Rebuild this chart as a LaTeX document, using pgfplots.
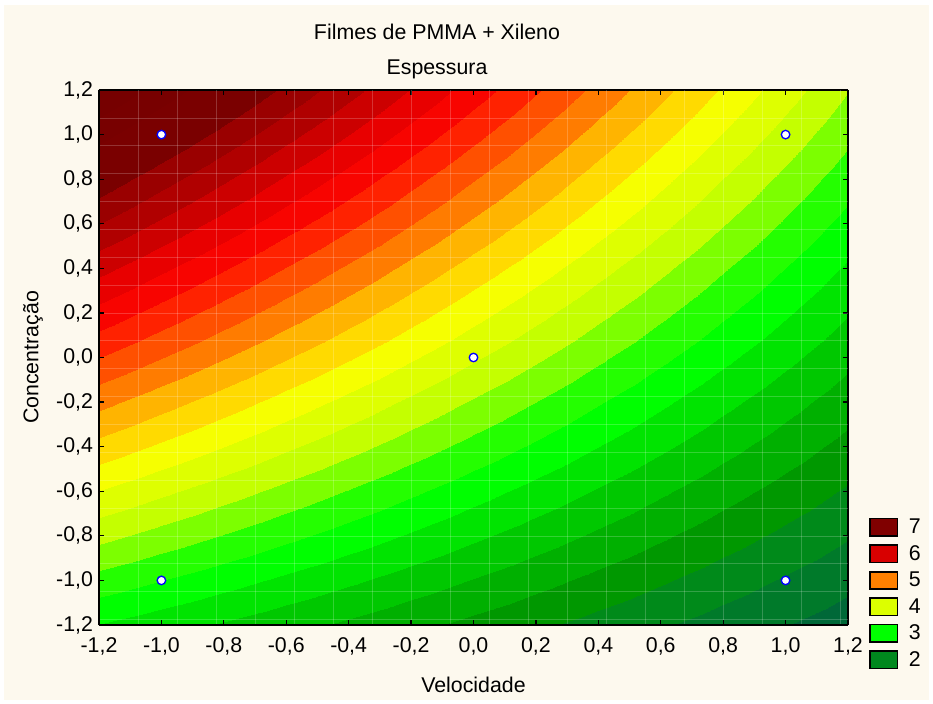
\documentclass[border=0pt]{standalone}
\usepackage{pgfplots}
\pgfplotsset{compat=1.18}
\usepackage{fontspec}
\setmainfont{Liberation Sans}
\definecolor{cream}{RGB}{253,249,238}
\definecolor{leg7}{RGB}{128,0,0}
\definecolor{leg6}{RGB}{216,0,0}
\definecolor{leg5}{RGB}{255,128,0}
\definecolor{leg4}{RGB}{220,255,0}
\definecolor{leg3}{RGB}{0,255,0}
\definecolor{leg2}{RGB}{0,136,30}
\pgfplotsset{
  colormap={statmap}{
    rgb255=(0,94,68) rgb255=(0,104,56) rgb255=(0,122,42) rgb255=(0,138,26)
    rgb255=(0,152,0) rgb255=(0,176,0) rgb255=(0,200,0) rgb255=(0,228,0)
    rgb255=(0,255,0) rgb255=(36,255,0) rgb255=(124,255,0) rgb255=(196,255,0)
    rgb255=(222,255,0) rgb255=(246,255,0) rgb255=(255,218,0) rgb255=(255,180,0)
    rgb255=(255,124,0) rgb255=(255,80,0) rgb255=(255,34,0) rgb255=(248,4,0)
    rgb255=(232,0,0) rgb255=(204,0,0) rgb255=(176,0,0) rgb255=(154,0,0)
    rgb255=(122,0,0) rgb255=(122,0,0) rgb255=(120,0,0) rgb255=(118,0,0)
    rgb255=(116,0,0)
  }
}
\newcommand{\lf}{\fontsize{16}{19}\selectfont}
\begin{document}
\begin{tikzpicture}
\fill[white] (0,0) rectangle (699.75pt,528pt);
\fill[cream] (3pt,3pt) rectangle (697pt,524.25pt);
\begin{axis}[
  at={(74.25pt,59.25pt)}, anchor=south west,
  scale only axis, width=561.75pt, height=401.25pt,
  view={0}{90},
  xmin=-1.2, xmax=1.2, ymin=-1.2, ymax=1.2,
  colormap name=statmap,
  colormap access=piecewise constant,
  point meta min=1, point meta max=8,
  axis on top,
  xtick={-1.2,-1.0,-0.8,-0.6,-0.4,-0.2,0,0.2,0.4,0.6,0.8,1.0,1.2},
  ytick={-1.2,-1.0,-0.8,-0.6,-0.4,-0.2,0,0.2,0.4,0.6,0.8,1.0,1.2},
  xticklabels={{-1,2},{-1,0},{-0,8},{-0,6},{-0,4},{-0,2},{0,0},{0,2},{0,4},{0,6},{0,8},{1,0},{1,2}},
  yticklabels={{-1,2},{-1,0},{-0,8},{-0,6},{-0,4},{-0,2},{0,0},{0,2},{0,4},{0,6},{0,8},{1,0},{1,2}},
  extra x ticks={-1.075,-0.95,-0.825,-0.7,-0.575,-0.45,-0.325,-0.2,-0.075,0.05,0.175,0.3,0.425,0.55,0.675,0.8,0.925,1.05,1.175},
  extra y ticks={1.075,0.95,0.825,0.7,0.575,0.45,0.325,0.2,0.075,-0.05,-0.175,-0.3,-0.425,-0.55,-0.675,-0.8,-0.925,-1.05,-1.175},
  extra x tick labels={}, extra y tick labels={},
  extra tick style={grid=major, major tick length=0pt,
    major grid style={white, opacity=0.2, line width=0.5pt}},
  ztick=\empty,
  tick align=inside, tick pos=both,
  major tick length=4pt,
  tick style={black, line width=0.9pt},
  axis line style={black, line width=1.5pt},
  tick label style={font=\lf},
  xticklabel style={yshift=-6pt},
  yticklabel style={xshift=-1pt},
  label style={font=\lf},
  xlabel={Velocidade}, ylabel={Concentração},
  xlabel style={at={(axis description cs:0.5,-0.112)}, anchor=center},
  ylabel style={at={(axis description cs:-0.088,0.5)}, anchor=center, rotate=0},
  legend image code/.code={\draw[#1, draw=black, line width=1.3pt] (0pt,-6.5pt) rectangle (20.5pt,6.5pt);},
  legend style={draw=none, fill=none, inner sep=0pt, row sep=5.3pt, column sep=7pt,
    font=\lf, at={(axis description cs:1.028,-0.084)}, anchor=south west,
    nodes={inner sep=1pt}},
  legend cell align=left,
]
\addplot3[surf, shader=interp, mesh/cols=13, forget plot] table {
x y z
-1.2 -1.2 2.924
-1.0 -1.2 2.794
-0.8 -1.2 2.664
-0.6 -1.2 2.533
-0.4 -1.2 2.403
-0.2 -1.2 2.272
0.0 -1.2 2.142
0.2 -1.2 2.012
0.4 -1.2 1.881
0.6 -1.2 1.751
0.8 -1.2 1.620
1.0 -1.2 1.490
1.2 -1.2 1.360
-1.2 -1.0 3.328
-1.0 -1.0 3.180
-0.8 -1.0 3.032
-0.6 -1.0 2.884
-0.4 -1.0 2.736
-0.2 -1.0 2.588
0.0 -1.0 2.440
0.2 -1.0 2.292
0.4 -1.0 2.144
0.6 -1.0 1.996
0.8 -1.0 1.848
1.0 -1.0 1.700
1.2 -1.0 1.552
-1.2 -0.8 3.732
-1.0 -0.8 3.566
-0.8 -0.8 3.400
-0.6 -0.8 3.235
-0.4 -0.8 3.069
-0.2 -0.8 2.904
0.0 -0.8 2.738
0.2 -0.8 2.572
0.4 -0.8 2.407
0.6 -0.8 2.241
0.8 -0.8 2.076
1.0 -0.8 1.910
1.2 -0.8 1.744
-1.2 -0.6 4.135
-1.0 -0.6 3.952
-0.8 -0.6 3.769
-0.6 -0.6 3.586
-0.4 -0.6 3.402
-0.2 -0.6 3.219
0.0 -0.6 3.036
0.2 -0.6 2.853
0.4 -0.6 2.670
0.6 -0.6 2.486
0.8 -0.6 2.303
1.0 -0.6 2.120
1.2 -0.6 1.937
-1.2 -0.4 4.539
-1.0 -0.4 4.338
-0.8 -0.4 4.137
-0.6 -0.4 3.936
-0.4 -0.4 3.736
-0.2 -0.4 3.535
0.0 -0.4 3.334
0.2 -0.4 3.133
0.4 -0.4 2.932
0.6 -0.4 2.732
0.8 -0.4 2.531
1.0 -0.4 2.330
1.2 -0.4 2.129
-1.2 -0.2 4.942
-1.0 -0.2 4.724
-0.8 -0.2 4.506
-0.6 -0.2 4.287
-0.4 -0.2 4.069
-0.2 -0.2 3.850
0.0 -0.2 3.632
0.2 -0.2 3.414
0.4 -0.2 3.195
0.6 -0.2 2.977
0.8 -0.2 2.758
1.0 -0.2 2.540
1.2 -0.2 2.322
-1.2 0.0 5.346
-1.0 0.0 5.110
-0.8 0.0 4.874
-0.6 0.0 4.638
-0.4 0.0 4.402
-0.2 0.0 4.166
0.0 0.0 3.930
0.2 0.0 3.694
0.4 0.0 3.458
0.6 0.0 3.222
0.8 0.0 2.986
1.0 0.0 2.750
1.2 0.0 2.514
-1.2 0.2 5.750
-1.0 0.2 5.496
-0.8 0.2 5.242
-0.6 0.2 4.989
-0.4 0.2 4.735
-0.2 0.2 4.482
0.0 0.2 4.228
0.2 0.2 3.974
0.4 0.2 3.721
0.6 0.2 3.467
0.8 0.2 3.214
1.0 0.2 2.960
1.2 0.2 2.706
-1.2 0.4 6.153
-1.0 0.4 5.882
-0.8 0.4 5.611
-0.6 0.4 5.340
-0.4 0.4 5.068
-0.2 0.4 4.797
0.0 0.4 4.526
0.2 0.4 4.255
0.4 0.4 3.984
0.6 0.4 3.712
0.8 0.4 3.441
1.0 0.4 3.170
1.2 0.4 2.899
-1.2 0.6 6.557
-1.0 0.6 6.268
-0.8 0.6 5.979
-0.6 0.6 5.690
-0.4 0.6 5.402
-0.2 0.6 5.113
0.0 0.6 4.824
0.2 0.6 4.535
0.4 0.6 4.246
0.6 0.6 3.958
0.8 0.6 3.669
1.0 0.6 3.380
1.2 0.6 3.091
-1.2 0.8 6.960
-1.0 0.8 6.654
-0.8 0.8 6.348
-0.6 0.8 6.041
-0.4 0.8 5.735
-0.2 0.8 5.428
0.0 0.8 5.122
0.2 0.8 4.816
0.4 0.8 4.509
0.6 0.8 4.203
0.8 0.8 3.896
1.0 0.8 3.590
1.2 0.8 3.284
-1.2 1.0 7.364
-1.0 1.0 7.040
-0.8 1.0 6.716
-0.6 1.0 6.392
-0.4 1.0 6.068
-0.2 1.0 5.744
0.0 1.0 5.420
0.2 1.0 5.096
0.4 1.0 4.772
0.6 1.0 4.448
0.8 1.0 4.124
1.0 1.0 3.800
1.2 1.0 3.476
-1.2 1.2 7.768
-1.0 1.2 7.426
-0.8 1.2 7.084
-0.6 1.2 6.743
-0.4 1.2 6.401
-0.2 1.2 6.060
0.0 1.2 5.718
0.2 1.2 5.376
0.4 1.2 5.035
0.6 1.2 4.693
0.8 1.2 4.352
1.0 1.2 4.010
1.2 1.2 3.668
};
\addplot3[only marks, mark=*, mark size=3.2pt, mark options={fill=white, draw=blue, line width=1pt}, forget plot]
  coordinates {(-1,-1,9) (-1,1,9) (0,0,9) (1,1,9) (1,-1,9)};
\addlegendimage{fill=leg7}\addlegendentry{7}
\addlegendimage{fill=leg6}\addlegendentry{6}
\addlegendimage{fill=leg5}\addlegendentry{5}
\addlegendimage{fill=leg4}\addlegendentry{4}
\addlegendimage{fill=leg3}\addlegendentry{3}
\addlegendimage{fill=leg2}\addlegendentry{2}
\end{axis}
\node[font=\lf, anchor=base] at (327.75pt,498pt) {Filmes de PMMA + Xileno};
\node[font=\lf, anchor=base] at (327.75pt,471.75pt) {Espessura};
\pgfresetboundingbox
\path (0,0) rectangle (699.75pt,528pt);
\end{tikzpicture}
\end{document}
